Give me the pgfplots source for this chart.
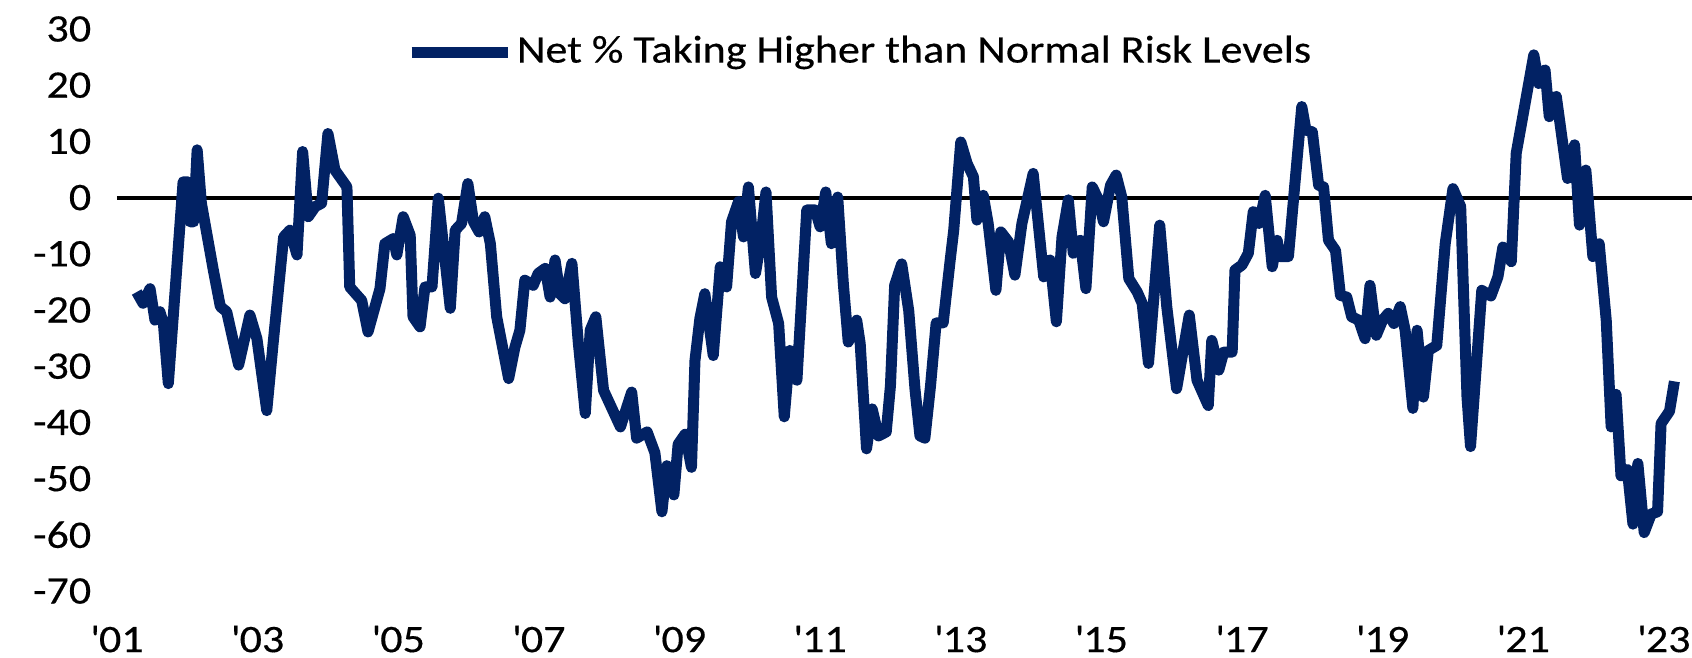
\documentclass[border=0pt]{standalone}
\usepackage{fontspec}
\setmainfont{Carlito}
\newfontfamily\chartfont[FakeStretch=1.13,FakeBold=0.35]{Carlito}
\usepackage{pgfplots}
\pgfplotsset{compat=1.18}
\usetikzlibrary{calc}
\definecolor{navy}{RGB}{2,34,100}

\begin{document}
\begin{tikzpicture}
\begin{axis}[
  width=393.75pt, height=140.5pt, scale only axis,
  xmin=2001, xmax=2023.4, ymin=-70, ymax=30,
  axis line style={draw=none}, major tick length=0pt,
  xtick={2001,2003,2005,2007,2009,2011,2013,2015,2017,2019,2021,2023},
  xticklabels={\textquotesingle01,\textquotesingle03,\textquotesingle05,\textquotesingle07,\textquotesingle09,\textquotesingle11,\textquotesingle13,\textquotesingle15,\textquotesingle17,\textquotesingle19,\textquotesingle21,\textquotesingle23},
  ytick={-70,-60,-50,-40,-30,-20,-10,0,10,20,30},
  yticklabels={-70,-60,-50,-40,-30,-20,-10,0,10,20,30},
  tick label style={font=\chartfont\fontsize{9.75}{11}\selectfont},
  yticklabel style={anchor=east, inner sep=0pt, xshift=-6.25pt},
  xticklabel style={anchor=north, inner sep=0pt, yshift=-8.5pt},
  clip=false,
  legend style={at={(rel axis cs:0.183,0.959)}, anchor=west, draw=none, fill=none,
    font=\chartfont\fontsize{9.75}{11}\selectfont, inner xsep=0pt,
    nodes={inner xsep=1pt}},
  legend image code/.code={\draw[line width=2.75pt, navy] (0pt,0pt) -- (24pt,0pt);},
]
\addplot[black, line width=1pt, forget plot] coordinates {(2001,0) (2023.4,0)};
\addplot[navy, line width=2.75pt, line join=round] coordinates {
(2001.28,-16.8) (2001.37,-18.8) (2001.47,-16.2) (2001.54,-21.8) (2001.61,-20.3)
(2001.66,-22.4) (2001.73,-33.1) (2001.94,2.8) (2002.01,2.8) (2002.04,-4.3)
(2002.09,-4.3) (2002.14,8.5) (2002.20,-1.0) (2002.37,-12.9) (2002.47,-19.4)
(2002.56,-20.3) (2002.73,-29.8) (2002.89,-20.9) (2002.99,-25.1) (2003.13,-37.9)
(2003.22,-26.0) (2003.37,-7.0) (2003.46,-5.8) (2003.56,-10.2) (2003.64,8.2)
(2003.72,-3.4) (2003.82,-1.6) (2003.91,-1.0) (2004.00,11.4) (2004.10,4.9)
(2004.27,1.9) (2004.31,-15.9) (2004.48,-18.3) (2004.57,-23.9) (2004.74,-16.2)
(2004.81,-8.2) (2004.93,-7.3) (2004.98,-10.2) (2005.07,-3.4) (2005.17,-6.7)
(2005.21,-21.2) (2005.31,-23.0) (2005.38,-15.9) (2005.48,-15.9) (2005.57,-0.1)
(2005.74,-19.7) (2005.81,-5.8) (2005.90,-4.6) (2005.99,2.5) (2006.07,-4.3)
(2006.15,-6.1) (2006.23,-3.4) (2006.31,-8.2) (2006.40,-21.2) (2006.57,-32.2)
(2006.66,-26.6) (2006.73,-23.6) (2006.80,-14.7) (2006.92,-15.6) (2006.99,-13.5)
(2007.09,-12.6) (2007.16,-17.7) (2007.23,-11.1) (2007.30,-17.1) (2007.37,-18.0)
(2007.47,-11.7) (2007.56,-25.7) (2007.66,-38.4) (2007.73,-23.6) (2007.81,-21.2)
(2007.92,-34.3) (2008.16,-40.8) (2008.32,-34.6) (2008.39,-42.8) (2008.54,-41.7)
(2008.65,-45.4) (2008.75,-55.9) (2008.82,-47.7) (2008.92,-52.9) (2008.98,-43.9)
(2009.08,-42.1) (2009.17,-48.0) (2009.22,-29.0) (2009.29,-21.5) (2009.36,-17.1)
(2009.48,-28.1) (2009.58,-12.3) (2009.67,-15.9) (2009.74,-4.3) (2009.84,-0.7)
(2009.91,-7.0) (2009.98,1.9) (2010.08,-13.5) (2010.15,-8.2) (2010.23,1.0)
(2010.31,-17.7) (2010.41,-22.4) (2010.49,-39.0) (2010.57,-27.2) (2010.67,-32.5)
(2010.81,-2.2) (2010.93,-2.2) (2011.00,-5.2) (2011.08,1.0) (2011.16,-8.2)
(2011.25,0.1) (2011.33,-15.3) (2011.40,-25.7) (2011.52,-21.8) (2011.57,-26.0)
(2011.66,-44.7) (2011.74,-37.6) (2011.83,-42.4) (2011.94,-41.7) (2012.00,-33.5)
(2012.06,-15.6) (2012.16,-11.8) (2012.26,-20.1) (2012.35,-34.2) (2012.42,-42.4)
(2012.49,-42.8) (2012.57,-33.5) (2012.65,-22.3) (2012.75,-22.3) (2012.85,-11.1)
(2012.90,-5.8) (2013.00,9.9) (2013.09,6.1) (2013.18,3.7) (2013.23,-4.0)
(2013.32,0.4) (2013.39,-4.6) (2013.50,-16.5) (2013.57,-6.1) (2013.68,-7.9)
(2013.77,-13.8) (2013.87,-4.6) (2014.03,4.3) (2014.18,-14.1) (2014.27,-11.1)
(2014.36,-22.1) (2014.44,-7.0) (2014.53,-0.4) (2014.60,-9.9) (2014.70,-7.6)
(2014.78,-16.2) (2014.87,1.9) (2014.96,-0.4) (2015.03,-4.3) (2015.13,2.2)
(2015.21,4.0) (2015.29,0.1) (2015.39,-14.4) (2015.51,-16.8) (2015.58,-18.8)
(2015.67,-29.5) (2015.83,-4.9) (2015.93,-19.4) (2016.07,-34.0) (2016.25,-20.9)
(2016.36,-32.5) (2016.52,-37.0) (2016.57,-25.4) (2016.67,-30.7) (2016.74,-27.5)
(2016.86,-27.5) (2016.90,-12.9) (2017.00,-12.0) (2017.09,-9.9) (2017.16,-2.5)
(2017.24,-4.6) (2017.33,0.4) (2017.43,-12.3) (2017.50,-7.6) (2017.54,-10.5)
(2017.66,-10.5) (2017.85,16.2) (2017.91,12.0) (2018.00,11.7) (2018.09,2.2)
(2018.16,1.9) (2018.23,-7.6) (2018.33,-9.4) (2018.40,-17.4) (2018.49,-17.7)
(2018.56,-21.2) (2018.66,-21.8) (2018.75,-25.1) (2018.82,-15.6) (2018.91,-24.5)
(2019.00,-21.8) (2019.08,-20.6) (2019.16,-22.4) (2019.25,-19.4) (2019.32,-23.6)
(2019.43,-37.5) (2019.49,-23.6) (2019.58,-35.5) (2019.65,-27.2) (2019.77,-26.3)
(2019.89,-8.2) (2020.00,1.6) (2020.11,-1.6) (2020.20,-35.5) (2020.25,-44.3)
(2020.41,-16.5) (2020.54,-17.5) (2020.64,-14.1) (2020.71,-8.8) (2020.83,-11.4)
(2020.90,7.9) (2021.15,25.4) (2021.22,20.3) (2021.31,22.7) (2021.37,14.4)
(2021.47,18.0) (2021.63,3.4) (2021.73,9.4) (2021.80,-4.9) (2021.89,4.9)
(2021.99,-10.5) (2022.08,-8.2) (2022.18,-21.8) (2022.25,-40.8) (2022.32,-35.0)
(2022.39,-49.5) (2022.48,-48.4) (2022.56,-58.1) (2022.63,-47.3) (2022.72,-59.6)
(2022.82,-56.3) (2022.91,-55.9) (2022.96,-40.2) (2023.08,-38.0) (2023.15,-32.7)
};
\addlegendentry{Net \% Taking Higher than Normal Risk Levels}
\end{axis}
\pgfresetboundingbox
\path ($(current axis.south west)+(-29.25pt,-16.5pt)$) rectangle ($(current axis.north east)+(0pt,7.25pt)$);
\end{tikzpicture}
\end{document}
